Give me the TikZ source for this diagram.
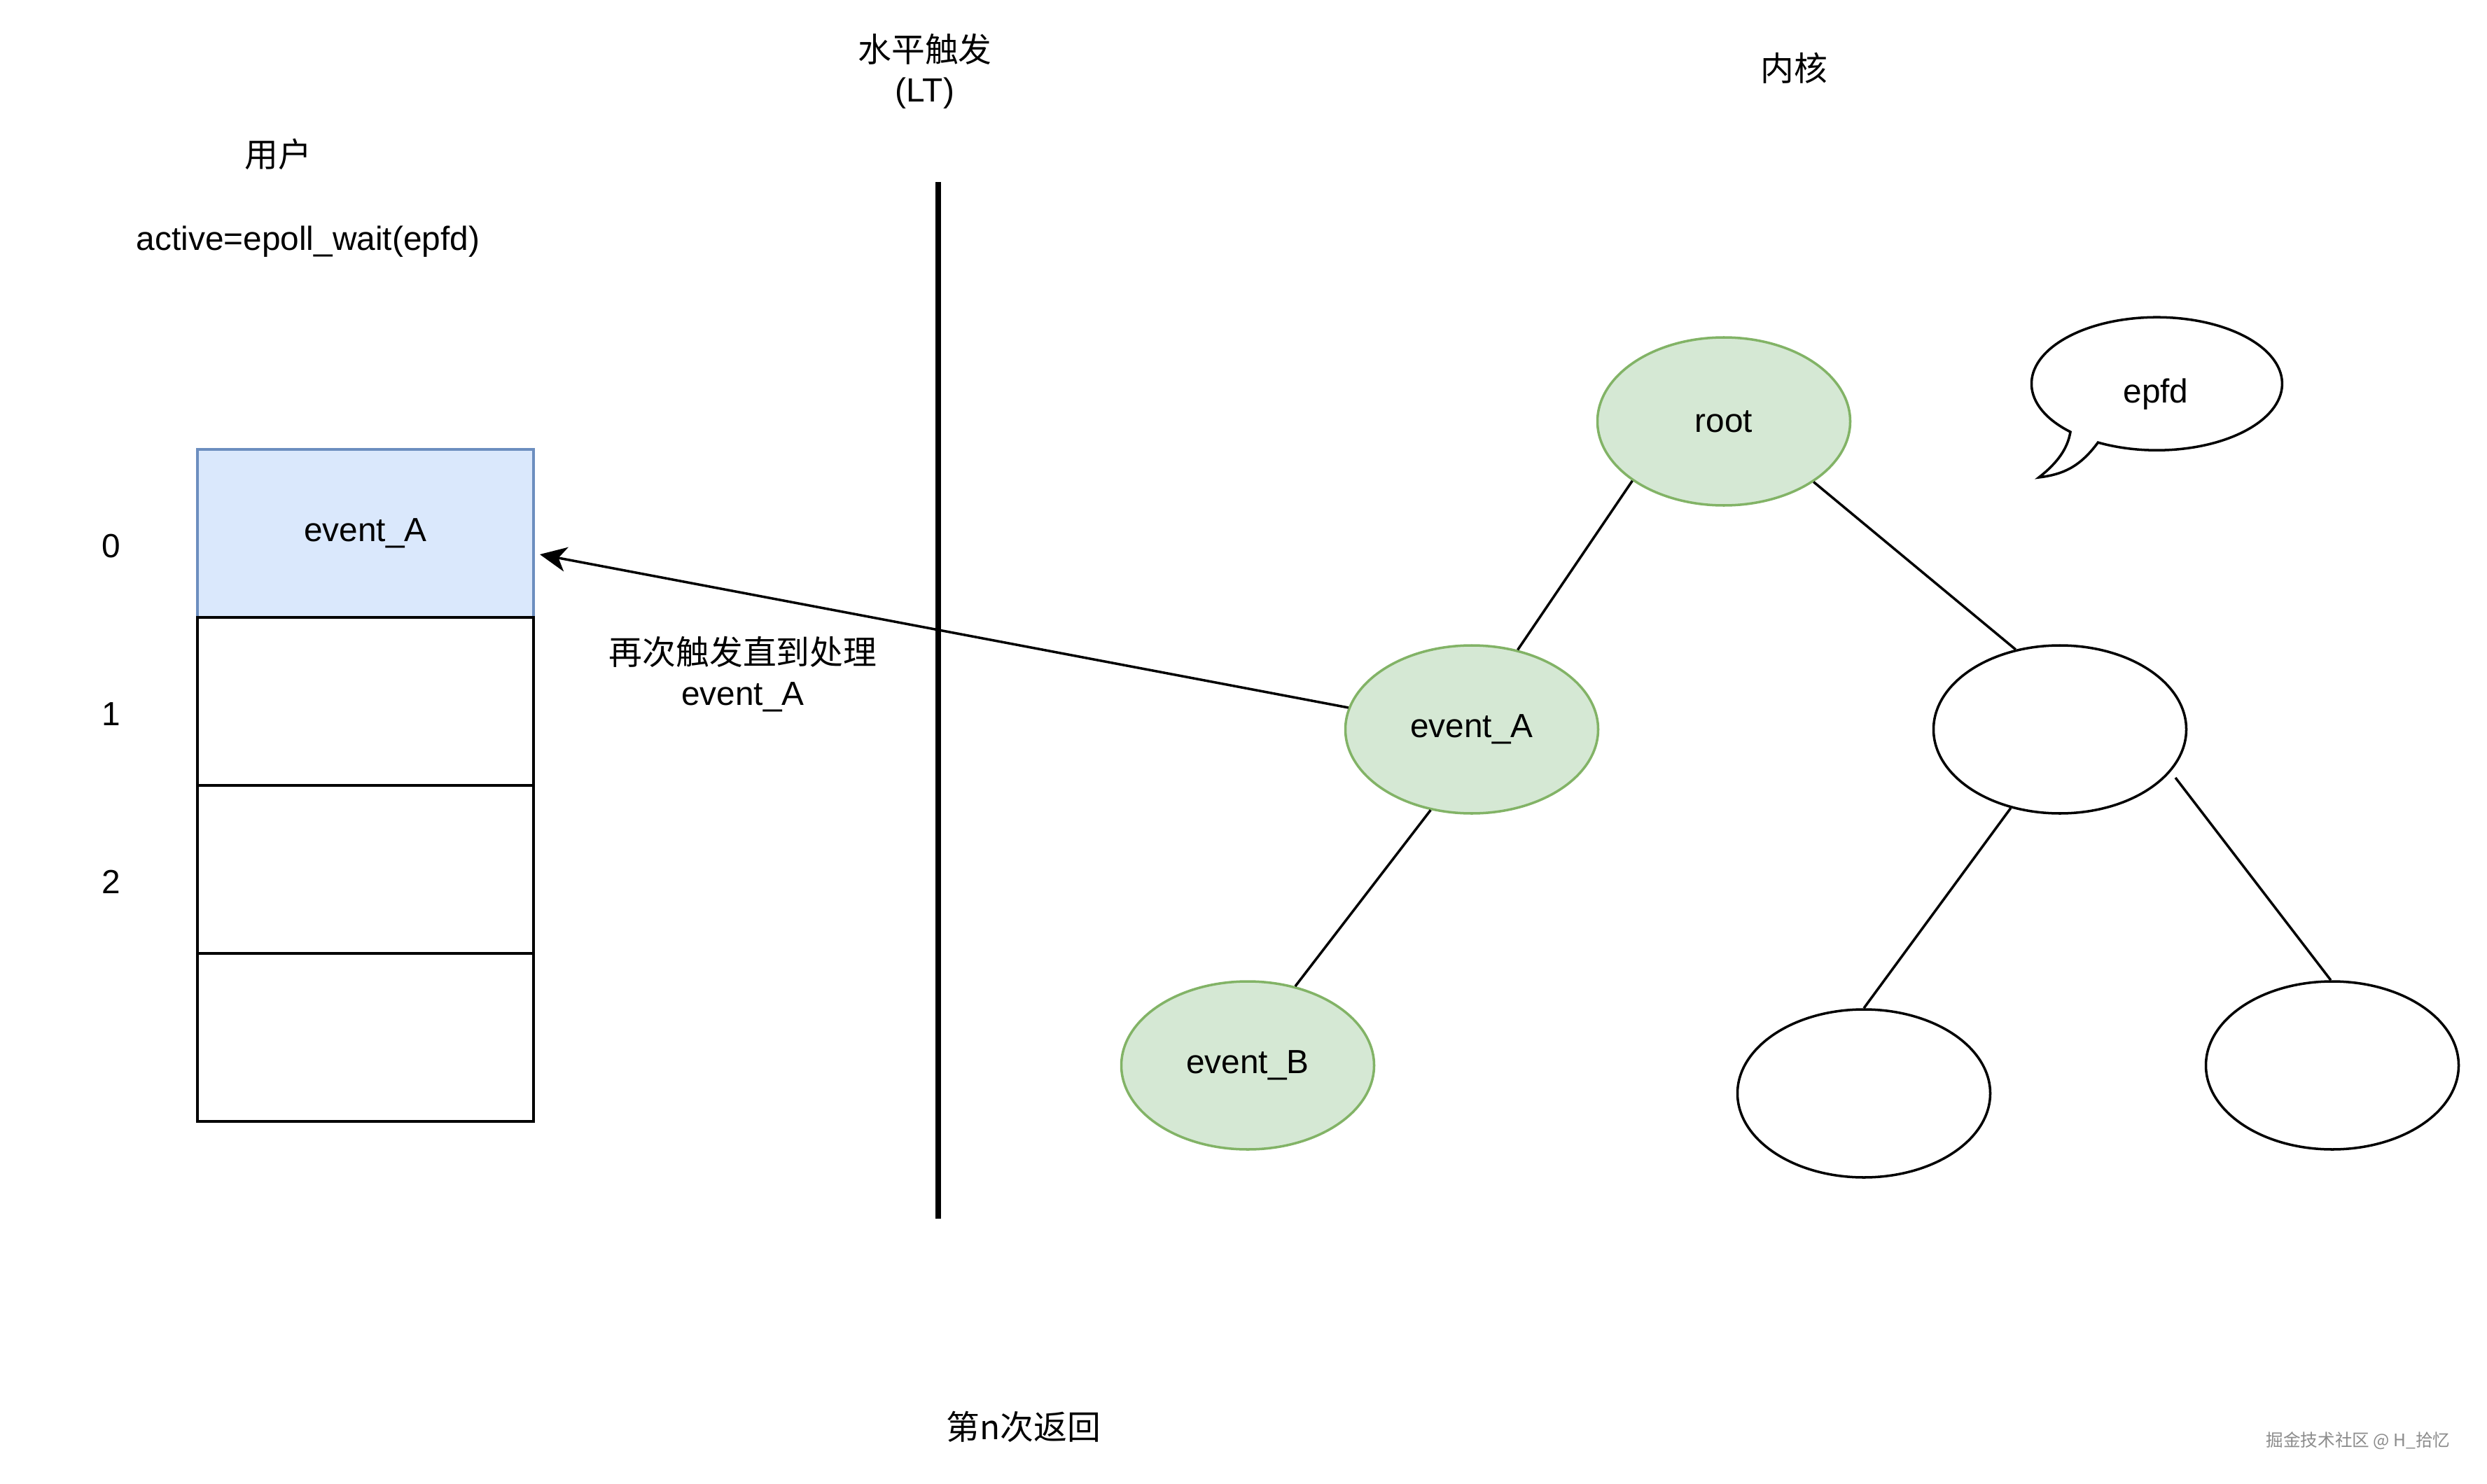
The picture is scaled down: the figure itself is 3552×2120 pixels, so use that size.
\documentclass[tikz,border=0pt]{standalone}
\usepackage{fontspec}
\setmainfont{Liberation Sans}
\newfontfamily\cjk{Noto Sans CJK SC}
\usetikzlibrary{shapes.geometric,arrows.meta,calc}
\definecolor{gfill}{HTML}{D5E8D4}
\definecolor{gline}{HTML}{82B366}
\definecolor{bfill}{HTML}{DAE8FC}
\definecolor{bline}{HTML}{6C8EBF}
\definecolor{wmark}{HTML}{8C8C8C}
\begin{document}
\begin{tikzpicture}[x=0.1mm,y=-0.1mm,
  txt/.style={font=\fontsize{13.6pt}{16.3pt}\selectfont, inner sep=0pt, align=center},
  cjktxt/.style={font=\cjk\fontsize{13.6pt}{16.3pt}\selectfont, inner sep=0pt, align=center},
  cell/.style={draw=black, line width=1pt, fill=white, minimum width=48.0mm, minimum height=24.0mm, inner sep=0pt, txt},
  tnode/.style={ellipse, draw=black, line width=1pt, fill=white, minimum width=36.1mm, minimum height=24mm, inner sep=0pt, txt},
  gnode/.style={tnode, draw=gline, fill=gfill},
  edge/.style={draw=black, line width=1pt},
]
\useasboundingbox (0,0) rectangle (3552,2120);
\fill[white] (0,0) rectangle (3552,2120);

% array
\node[cell, draw=bline, fill=bfill] (c0) at (522,762) {event\_A};
\node[cell] (c1) at (522,1002) {};
\node[cell] (c2) at (522,1242) {};
\node[cell] (c3) at (522,1482) {};
\node[txt] (i0) at (159,780) {0};
\node[txt] (i1) at (159,1020) {1};
\node[txt] (i2) at (159,1260) {2};

% labels
\node[cjktxt] (user) at (397,220) {用户};
\node[txt] (act) at (440,345) {active=epoll\_wait(epfd)};
\node[txt] (lt) at (1321,102) {{\cjk 水平触发}\\(LT)};
\node[cjktxt] (kern) at (2562,97) {内核};
\node[txt] (lab) at (1061,963) {{\cjk 再次触发直到处理}\\event\_A};
\node[cjktxt] (ret) at (1462,2038) {第n次返回};
\node[font=\cjk\fontsize{7pt}{8pt}\selectfont, text=wmark, inner sep=0pt] (wm) at (3368,2058) {掘金技术社区 @ H\_拾忆};

% divider
\coordinate (vtop) at (1340,260);
\coordinate (vbot) at (1340,1741);
\draw[line width=2.55pt] (vtop) -- (vbot);

% tree
\node[gnode] (root) at (2462,602) {root};
\node[gnode] (ea) at (2102,1042) {event\_A};
\node[gnode] (eb) at (1782,1522) {event\_B};
\node[tnode] (n1) at (2942,1042) {};
\node[tnode] (n2) at (2662,1562) {};
\node[tnode] (n3) at (3331,1522) {};
\draw[edge] (root.213) -- (ea.60);
\draw[edge] (root.326) -- (n1.119);
\draw[edge] (ea.243) -- (eb.59);
\draw[edge] (n1.238) -- (n2.90);
\draw[edge] ($(n1.center)+(165,69)$) -- (n3.91);

% arrow
\coordinate (tip) at (771,792);
\draw[edge, -{Stealth[length=10.8pt,width=10pt,inset=3.1pt]}] (ea.170) -- (tip);

% speech bubble
\draw[line width=1pt, fill=white] (2957,617) arc[start angle=133.6, end angle=478, x radius=179, y radius=95]
  .. controls (2970,668) and (2945,678) .. (2912,682)
  .. controls (2940,660) and (2953,640) .. (2957,617) -- cycle;
\node[txt] (epfd) at (3079,563) {epfd};
\end{tikzpicture}
\end{document}
